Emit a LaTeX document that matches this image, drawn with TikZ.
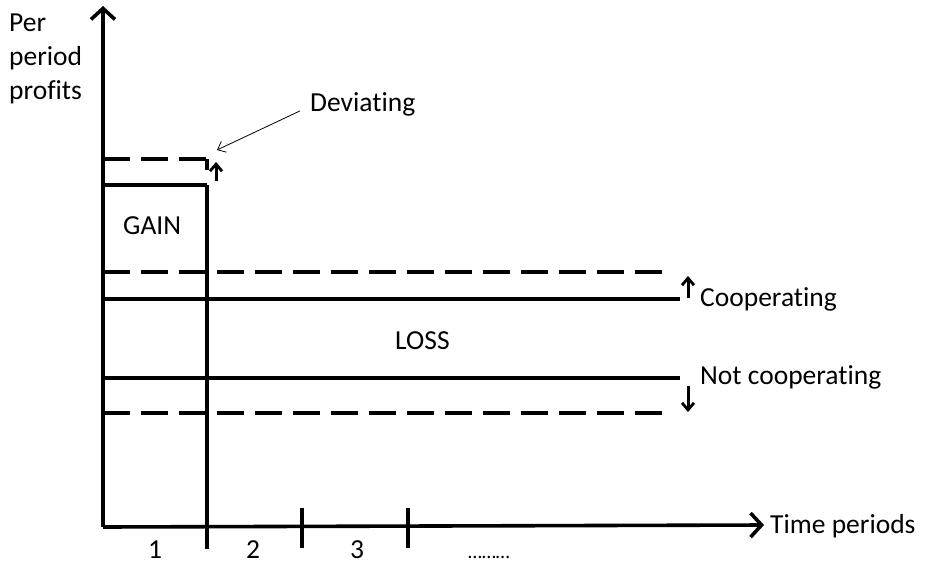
\documentclass[tikz,border=0pt]{standalone}
\usepackage{fontspec}
\setmainfont[RawFeature=-liga]{Carlito}
\usetikzlibrary{arrows.meta}
\begin{document}
\begin{tikzpicture}[x=1pt,y=-1pt,
  thickline/.style={line width=3.2pt},
  dashline/.style={line width=3.2pt,dash pattern=on 27pt off 11pt},
  axis/.style={line width=3.6pt,-{Straight Barb[length=11pt,width=24pt,line width=3.6pt]}},
  small/.style={line width=3pt,-{Straight Barb[length=7pt,width=12pt,line width=2.8pt]}},
  lbl/.style={font=\fontsize{27.5}{32}\selectfont,inner sep=0pt,anchor=base west},
  num/.style={font=\fontsize{27.5}{32}\selectfont,inner sep=0pt,anchor=base}]
\useasboundingbox (0,0) rectangle (936,567);
% axes
\coordinate (O) at (103,527);
\coordinate (Ytip) at (103,6);
\coordinate (Xtip) at (764,525);
\draw[axis] (O) -- (Ytip);
\draw[axis] (O) -- (Xtip);
% vertical and ticks
\coordinate (v1t) at (207,185); \coordinate (v1b) at (207,549);
\coordinate (t2t) at (302,508); \coordinate (t2b) at (302,548);
\coordinate (t3t) at (408,508); \coordinate (t3b) at (408,548);
\draw[thickline] (v1t) -- (v1b);
\draw[thickline] (t2t) -- (t2b);
\draw[thickline] (t3t) -- (t3b);
% gain box
\coordinate (g0) at (103,185);
\draw[thickline] (g0) -- (v1t);
\coordinate (d0) at (103,159); \coordinate (d1) at (207,159); \coordinate (d2) at (207,170);
\draw[dashline] (d0) -- (d1);
\draw[thickline] (d1) -- (d2);
\coordinate (da0) at (216,181); \coordinate (da1) at (216,162);
\draw[small] (da0) -- (da1);
% cooperating / not cooperating
\coordinate (c0) at (103,272); \coordinate (c1) at (672,272);
\coordinate (s0) at (103,299); \coordinate (s1) at (680,299);
\coordinate (n0) at (103,378); \coordinate (n1) at (680,378);
\coordinate (m0) at (103,413); \coordinate (m1) at (672,413);
\draw[dashline] (c0) -- (c1);
\draw[thickline] (s0) -- (s1);
\draw[thickline] (n0) -- (n1);
\draw[dashline] (m0) -- (m1);
\coordinate (ca0) at (688,298); \coordinate (ca1) at (688,276);
\draw[small] (ca0) -- (ca1);
\coordinate (na0) at (688,386); \coordinate (na1) at (688,412);
\draw[small] (na0) -- (na1);
% labels
\node[lbl] (per) at (9,32) {Per};
\node[lbl] (period) at (9,66) {period};
\node[lbl] (profits) at (9,100) {profits};
\node[lbl] (dev) at (310,112) {Deviating};
\coordinate (devtip) at (217,150);
\draw[line width=0.8pt,-{Straight Barb[length=7pt,width=12pt,line width=0.8pt]}] (dev.west) ++(-10pt,-6pt) -- (devtip);
\node[lbl] (gain) at (123,234) {GAIN};
\node[lbl] (loss) at (395,349) {LOSS};
\node[lbl] (coop) at (700,306) {Cooperating};
\node[lbl] (ncoop) at (700,384) {Not cooperating};
\node[lbl] (time) at (770,533) {Time periods};
\node[num] (n1l) at (155,558) {1};
\node[num] (n2l) at (253,558) {2};
\node[num] (n3l) at (357,558) {3};
\node[lbl,font=\fontsize{20}{24}\selectfont] (dots) at (468,558) {………};
\end{tikzpicture}
\end{document}
